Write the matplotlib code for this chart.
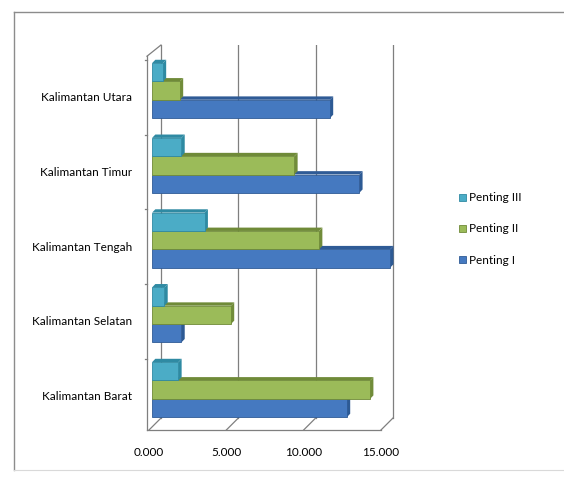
import matplotlib.pyplot as plt
from matplotlib.patches import Polygon
import numpy as np

plt.rcParams['font.family'] = ['Lato', 'DejaVu Sans']

provinces = ['Kalimantan Barat', 'Kalimantan Selatan', 'Kalimantan Tengah',
             'Kalimantan Timur', 'Kalimantan Utara']
penting_1 = [12600, 1900, 15400, 13400, 11500]
penting_2 = [14100, 5100, 10800, 9200, 1800]
penting_3 = [1700, 800, 3400, 1900, 700]
series_names = ['Penting I', 'Penting II', 'Penting III']
x_ticks = [0, 5000, 10000, 15000]
x_labels = ['0.000', '5.000', '10.000', '15.000']

face_colors = ['#4579c0', '#9bbb59', '#4bacc6']
edge_colors = ['#2f5b96', '#6f8a38', '#2f8aa3']
side_colors = ['#2d5a94', '#718c3a', '#2e8aa2']

fig = plt.figure(figsize=(5.64, 4.83), dpi=100)
# outer chart border (top and left visible in the reference)
fig.add_artist(plt.Line2D([14 / 564, 1.0], [1 - 12 / 483, 1 - 12 / 483],
                          transform=fig.transFigure, color='#8c8c8c', lw=1.0))
fig.add_artist(plt.Line2D([14 / 564, 14 / 564], [1 - 12 / 483, 1 - 470 / 483],
                          transform=fig.transFigure, color='#8c8c8c', lw=1.0))
fig.add_artist(plt.Line2D([14 / 564, 1.0], [1 - 470 / 483, 1 - 470 / 483],
                          transform=fig.transFigure, color='#d9d9d9', lw=0.8))

ax = fig.add_axes([149 / 564, 53 / 483, 251 / 564, 385 / 483])
ax.set_xlim(0, 16230)
ax.set_ylim(-0.52, 4.63)
for s in ax.spines.values():
    s.set_visible(False)

wall_dx = 775
wall_y0 = -0.36
y_top = 4.63
front_x = -130
line_c = '#7f7f7f'

# back wall grid and axes frame
ax.plot([wall_dx, wall_dx], [wall_y0, y_top], color=line_c, lw=0.9, zorder=1)
for v in x_ticks[1:]:
    ax.plot([v + wall_dx, v + wall_dx], [wall_y0, y_top], color=line_c, lw=0.9, zorder=1)
for v in x_ticks:
    ax.plot([v, v + wall_dx], [-0.52, wall_y0], color=line_c, lw=0.9, zorder=1, clip_on=False)
ax.plot([front_x, 15000], [-0.52, -0.52], color=line_c, lw=0.9, clip_on=False)
ax.plot([front_x, wall_dx], [y_top - 0.15, y_top], color=line_c, lw=0.9, clip_on=False)
ax.plot([front_x, front_x], [-0.52, y_top - 0.15], color=line_c, lw=0.9, clip_on=False)
for b in np.arange(0.5, 4.6, 1.0):
    ax.plot([-280, front_x], [b - 0.07, b - 0.07], color=line_c, lw=0.9, clip_on=False)

# bars with a simple 3D look
bar_h = 0.245
left = 200
dx = 210
dy = 0.045
series = [penting_1, penting_2, penting_3]
for k, vals in enumerate(series):
    ys = np.arange(len(provinces)) + (k - 1) * bar_h + 0.02
    z = 2 + k
    for y, v in zip(ys, vals):
        top = y + bar_h / 2
        bot = y - bar_h / 2
        ax.add_patch(Polygon([(left, top), (left + dx, top + dy), (left + v + dx, top + dy),
                              (left + v, top)], closed=True, facecolor=edge_colors[k],
                             edgecolor='none', zorder=z))
        ax.add_patch(Polygon([(left + v, bot), (left + v + dx, bot + dy),
                              (left + v + dx, top + dy), (left + v, top)], closed=True,
                             facecolor=side_colors[k], edgecolor='none', zorder=z))
    ax.barh(ys, vals, height=bar_h, left=left, color=face_colors[k],
            edgecolor=edge_colors[k], linewidth=0.6, zorder=z + 0.1,
            label=series_names[k])

ax.set_xticks(x_ticks)
ax.set_xticklabels(x_labels, fontsize=8.5)
ax.set_yticks(np.arange(len(provinces)) - 0.06)
ax.set_yticklabels(provinces, fontsize=8.5)
ax.tick_params(axis='x', length=0, pad=12)
ax.tick_params(axis='y', length=0, pad=12)

handles, labels = ax.get_legend_handles_labels()
fig.legend(handles[::-1], labels[::-1], loc='center left',
           bbox_to_anchor=(448 / 564, 1 - 229 / 483), frameon=False,
           fontsize=8.5, handlelength=0.6, handleheight=0.6,
           handletextpad=0.3, labelspacing=1.7)

fig.savefig('out.png', dpi=100)
